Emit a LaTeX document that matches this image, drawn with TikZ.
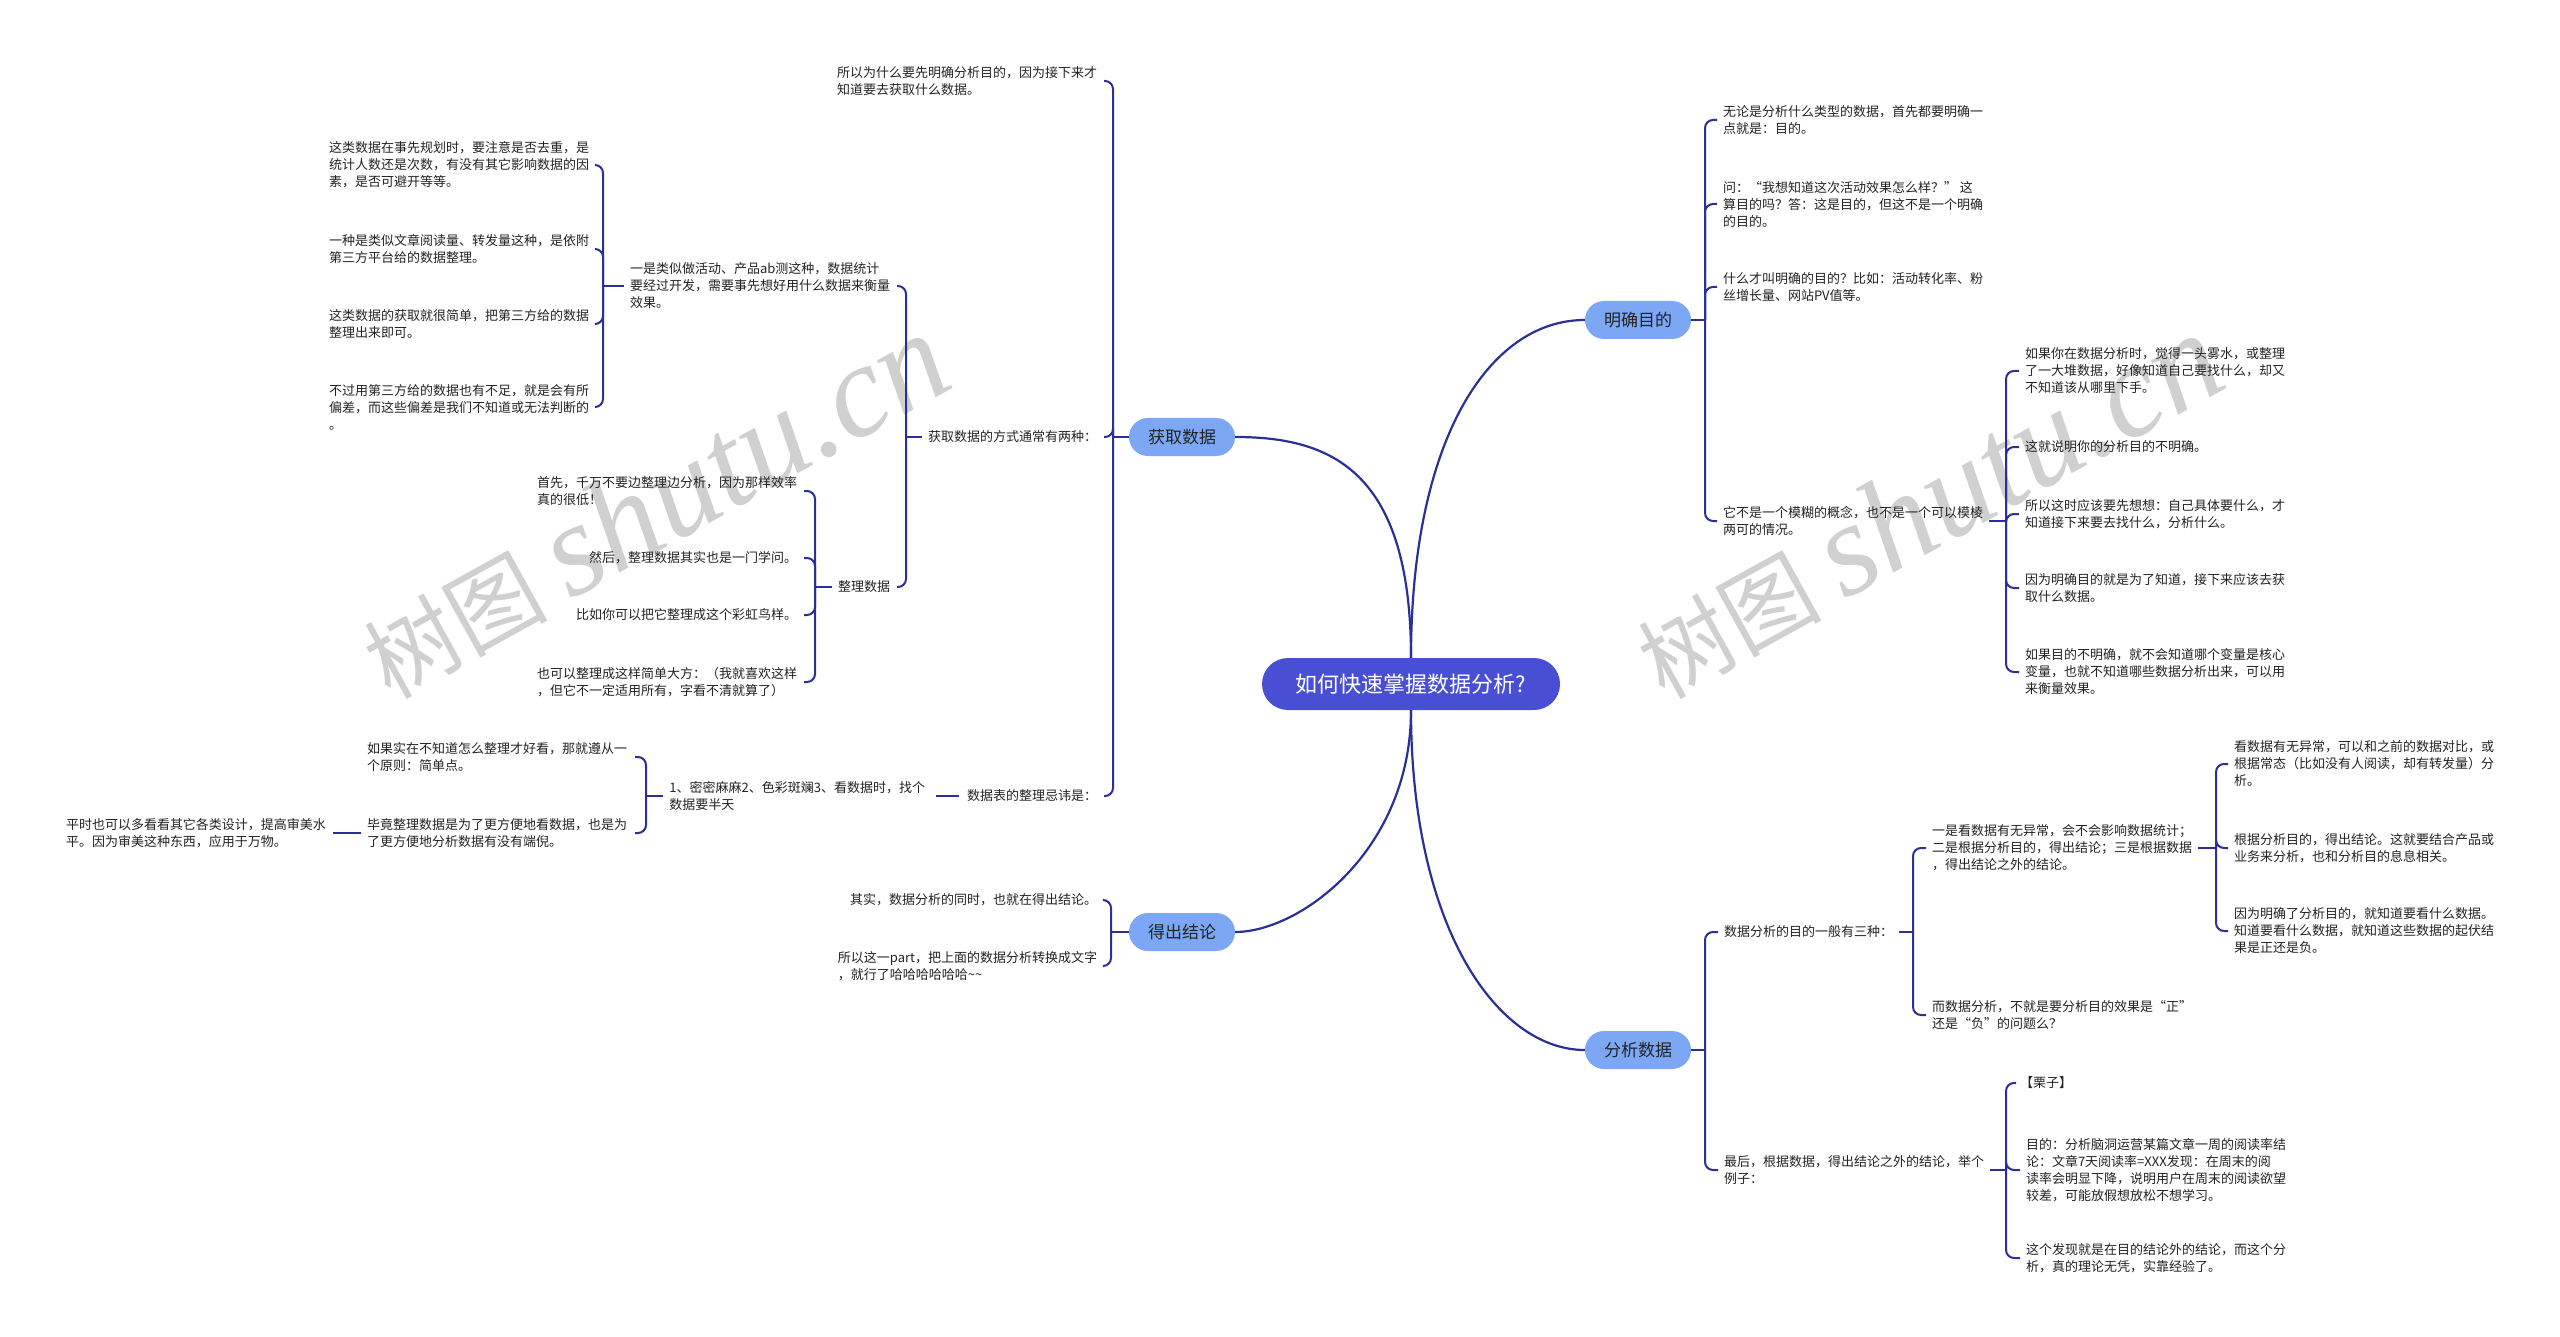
\documentclass[tikz,border=0pt]{standalone}
\usepackage{fontspec}
\setmainfont{Noto Sans CJK SC}
\newfontfamily\wmlatin{Liberation Serif}[ItalicFont={Liberation Serif Italic}]
\usetikzlibrary{calc}
\definecolor{linec}{RGB}{42,48,150}
\definecolor{rootc}{RGB}{73,79,213}
\definecolor{branchc}{RGB}{124,167,245}
\definecolor{wmc}{RGB}{208,208,208}
\definecolor{txtc}{RGB}{35,35,35}
\tikzset{
  conn/.style={draw=linec, line width=2pt, rounded corners=8pt},
  maincurve/.style={draw=linec, line width=2.2pt},
  rootbox/.style={fill=rootc, text=white, rounded corners=26pt, minimum width=298pt, minimum height=52pt, font=\fontsize{22pt}{26pt}\selectfont, inner sep=0pt},
  branchbox/.style={fill=branchc, text=txtc, rounded corners=19pt, minimum width=106pt, minimum height=38pt, font=\fontsize{17pt}{20pt}\selectfont, inner sep=0pt},
  leaf/.style={text=txtc, font=\fontsize{13pt}{17pt}\selectfont, align=left, inner sep=0pt, outer sep=0pt},
  lw/.style={leaf, anchor=west},
  le/.style={leaf, anchor=east},
  wmark/.style={text=wmc, inner sep=0pt, rotate=29},
}
\newcommand{\wmtext}{{\fontsize{92pt}{92pt}\selectfont 树图}\hspace{22pt}{\wmlatin\itshape\fontsize{132pt}{132pt}\selectfont shutu.cn}}
\begin{document}
\begin{tikzpicture}[x=1pt, y=-1pt]
\fill[white] (0,0) rectangle (2560,1337);
\useasboundingbox (0,0) rectangle (2560,1337);

% watermarks
\node[wmark] (wm1) at (654,506) {\wmtext};
\node[wmark] (wm2) at (1928,506) {\wmtext};

% root and branches
\node[rootbox] (root) at (1411,684) {如何快速掌握数据分析?};
\node[branchbox] (B1) at (1182,437) {获取数据};
\node[branchbox] (B2) at (1638,320) {明确目的};
\node[branchbox] (B3) at (1182,932) {得出结论};
\node[branchbox] (B4) at (1638,1050) {分析数据};

\draw[maincurve] (root.north) .. controls +(0,-188) and +(95,0) .. (B1.east);
\draw[maincurve] (root.north) .. controls +(0,-218) and +(-96,0) .. (B2.west);
\draw[maincurve] (root.south) .. controls +(0,140) and +(65,0) .. (B3.east);
\draw[maincurve] (root.south) .. controls +(0,220) and +(-86,0) .. (B4.west);

% ---------- 明确目的 ----------
\coordinate (j2) at (1705,320);
\node[lw] (m1) at (1723,120) {无论是分析什么类型的数据，首先都要明确一\\点就是：目的。};
\node[lw] (m2) at (1723,204) {问：“我想知道这次活动效果怎么样？” 这\\算目的吗？答：这是目的，但这不是一个明确\\的目的。};
\node[lw] (m3) at (1723,287) {什么才叫明确的目的？比如：活动转化率、粉\\丝增长量、网站PV值等。};
\node[lw] (m4) at (1723,521) {它不是一个模糊的概念，也不是一个可以模棱\\两可的情况。};
\draw[conn] (B2.east) -- (j2);
\foreach \n in {m1,m2,m3,m4} \draw[conn] (j2) |- ([xshift=-6pt]\n.west);

\coordinate (j4) at (2006,521);
\node[lw] (m4a) at (2025,371) {如果你在数据分析时，觉得一头雾水，或整理\\了一大堆数据，好像知道自己要找什么，却又\\不知道该从哪里下手。};
\node[lw] (m4b) at (2025,447) {这就说明你的分析目的不明确。};
\node[lw] (m4c) at (2025,514) {所以这时应该要先想想：自己具体要什么，才\\知道接下来要去找什么，分析什么。};
\node[lw] (m4d) at (2025,588) {因为明确目的就是为了知道，接下来应该去获\\取什么数据。};
\node[lw] (m4e) at (2025,672) {如果目的不明确，就不会知道哪个变量是核心\\变量，也就不知道哪些数据分析出来，可以用\\来衡量效果。};
\draw[conn] ([xshift=6pt]m4.east) -- (j4);
\foreach \n in {m4a,m4b,m4c,m4d,m4e} \draw[conn] (j4) |- ([xshift=-6pt]\n.west);

% ---------- 分析数据 ----------
\coordinate (j5) at (1705,1050);
\node[lw] (a1) at (1724,932) {数据分析的目的一般有三种：};
\node[lw] (a2) at (1724,1170) {最后，根据数据，得出结论之外的结论，举个\\例子：};
\draw[conn] (B4.east) -- (j5);
\foreach \n in {a1,a2} \draw[conn] (j5) |- ([xshift=-6pt]\n.west);

\coordinate (ja1) at (1913,932);
\node[lw] (a1a) at (1932,848) {一是看数据有无异常，会不会影响数据统计；\\二是根据分析目的，得出结论；三是根据数据\\，得出结论之外的结论。};
\node[lw] (a1b) at (1932,1015) {而数据分析，不就是要分析目的效果是“正”\\还是“负”的问题么？};
\draw[conn] ([xshift=6pt]a1.east) -- (ja1);
\foreach \n in {a1a,a1b} \draw[conn] (ja1) |- ([xshift=-6pt]\n.west);

\coordinate (ja1a) at (2216,848);
\node[lw] (a1a1) at (2234,764) {看数据有无异常，可以和之前的数据对比，或\\根据常态（比如没有人阅读，却有转发量）分\\析。};
\node[lw] (a1a2) at (2234,848) {根据分析目的，得出结论。这就要结合产品或\\业务来分析，也和分析目的息息相关。};
\node[lw] (a1a3) at (2234,931) {因为明确了分析目的，就知道要看什么数据。\\知道要看什么数据，就知道这些数据的起伏结\\果是正还是负。};
\draw[conn] ([xshift=6pt]a1a.east) -- (ja1a);
\foreach \n in {a1a1,a1a2,a1a3} \draw[conn] (ja1a) |- ([xshift=-6pt]\n.west);

\coordinate (ja2) at (2006,1170);
\node[lw] (a2a) at (2020,1083) {【栗子】};
\node[lw] (a2b) at (2026,1170) {目的：分析脑洞运营某篇文章一周的阅读率结\\论：文章7天阅读率=XXX发现：在周末的阅\\读率会明显下降，说明用户在周末的阅读欲望\\较差，可能放假想放松不想学习。};
\node[lw] (a2c) at (2026,1258) {这个发现就是在目的结论外的结论，而这个分\\析，真的理论无凭，实靠经验了。};
\draw[conn] ([xshift=6pt]a2.east) -- (ja2);
\draw[conn] (ja2) |- ([xshift=-4pt]a2a.west);
\foreach \n in {a2b,a2c} \draw[conn] (ja2) |- ([xshift=-6pt]\n.west);

% ---------- 获取数据 ----------
\coordinate (j1) at (1113,437);
\node[le] (g1) at (1097,81) {所以为什么要先明确分析目的，因为接下来才\\知道要去获取什么数据。};
\node[le] (g2) at (1097,437) {获取数据的方式通常有两种：};
\node[le] (g3) at (1097,796) {数据表的整理忌讳是：};
\draw[conn] (B1.west) -- (j1);
\foreach \n in {g1,g2,g3} \draw[conn] (j1) |- ([xshift=7pt]\n.east);

\coordinate (j1b) at (906,437);
\node[le] (g2a) at (890,286) {一是类似做活动、产品ab测这种，数据统计\\要经过开发，需要事先想好用什么数据来衡量\\效果。};
\node[le] (g2b) at (890,587) {整理数据};
\draw[conn] ([xshift=-6pt]g2.west) -- (j1b);
\foreach \n in {g2a,g2b} \draw[conn] (j1b) |- ([xshift=7pt]\n.east);

\coordinate (j1c) at (603,286);
\node[le] (g2a1) at (589,165) {这类数据在事先规划时，要注意是否去重，是\\统计人数还是次数，有没有其它影响数据的因\\素，是否可避开等等。};
\node[le] (g2a2) at (589,249) {一种是类似文章阅读量、转发量这种，是依附\\第三方平台给的数据整理。};
\node[le] (g2a3) at (589,324) {这类数据的获取就很简单，把第三方给的数据\\整理出来即可。};
\node[le] (g2a4) at (589,407) {不过用第三方给的数据也有不足，就是会有所\\偏差，而这些偏差是我们不知道或无法判断的\\。};
\draw[conn] ([xshift=-6pt]g2a.west) -- (j1c);
\foreach \n in {g2a1,g2a2,g2a3,g2a4} \draw[conn] (j1c) |- ([xshift=7pt]\n.east);

\coordinate (j1d) at (815,587);
\node[le] (g2b1) at (797,491) {首先，千万不要边整理边分析，因为那样效率\\真的很低！};
\node[le] (g2b2) at (797,558) {然后，整理数据其实也是一门学问。};
\node[le] (g2b3) at (797,615) {比如你可以把它整理成这个彩虹鸟样。};
\node[le] (g2b4) at (797,682) {也可以整理成这样简单大方：（我就喜欢这样\\，但它不一定适用所有，字看不清就算了）};
\draw[conn] ([xshift=-6pt]g2b.west) -- (j1d);
\foreach \n in {g2b1,g2b2,g2b3,g2b4} \draw[conn] (j1d) |- ([xshift=7pt]\n.east);

\node[le] (g3c) at (925,796) {1、密密麻麻2、色彩斑斓3、看数据时，找个\\数据要半天};
\draw[conn] ([xshift=-8pt]g3.west) -- ([xshift=11pt]g3c.east);

\coordinate (j1e) at (646,796);
\node[le] (g3c1) at (627,757) {如果实在不知道怎么整理才好看，那就遵从一\\个原则：简单点。};
\node[le] (g3c2) at (627,833) {毕竟整理数据是为了更方便地看数据，也是为\\了更方便地分析数据有没有端倪。};
\draw[conn] ([xshift=-6pt]g3c.west) -- (j1e);
\foreach \n in {g3c1,g3c2} \draw[conn] (j1e) |- ([xshift=8pt]\n.east);

\node[le] (g3c3) at (326,833) {平时也可以多看看其它各类设计，提高审美水\\平。因为审美这种东西，应用于万物。};
\draw[conn] ([xshift=-6pt]g3c2.west) -- ([xshift=7pt]g3c3.east);

% ---------- 得出结论 ----------
\coordinate (j3) at (1111,932);
\node[le] (d1) at (1097,900) {其实，数据分析的同时，也就在得出结论。};
\node[le] (d2) at (1097,966) {所以这一part，把上面的数据分析转换成文字\\，就行了哈哈哈哈哈哈\textasciitilde\textasciitilde};
\draw[conn] (B3.west) -- (j3);
\foreach \n in {d1,d2} \draw[conn] (j3) |- ([xshift=7pt]\n.east);
\end{tikzpicture}
\end{document}
